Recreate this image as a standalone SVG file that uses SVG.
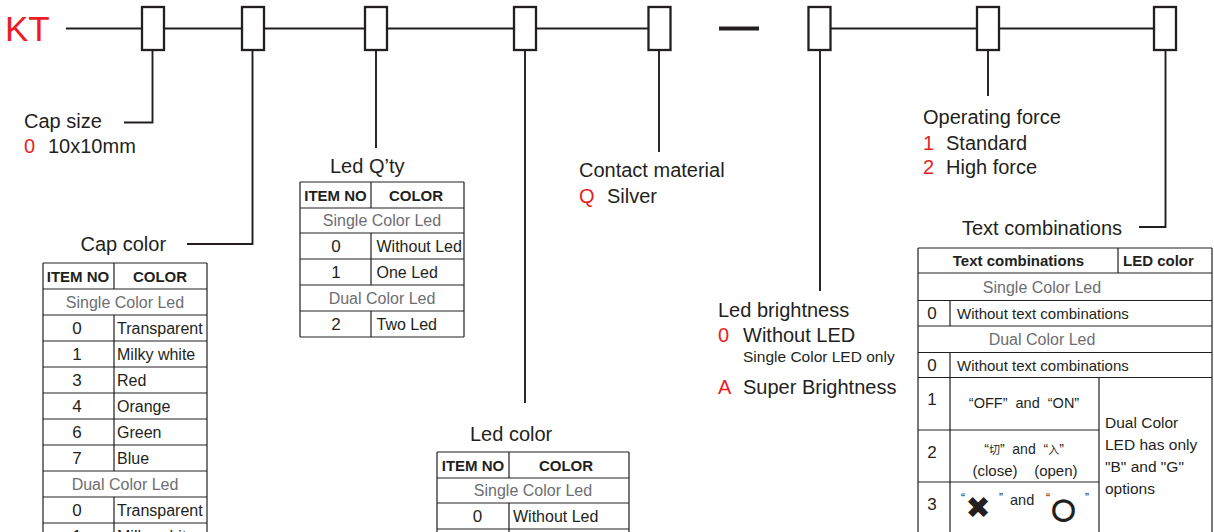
<svg xmlns="http://www.w3.org/2000/svg" width="1214" height="532" viewBox="0 0 1214 532">
<style>
text{font-family:"Liberation Sans",Arial,sans-serif;fill:#231f20}
.red{fill:#ed1c24}
.lbl{font-size:20px}
.th{font-size:15px;font-weight:bold}
.sub{font-size:16px;fill:#6d6e71;text-anchor:middle}
.num{font-size:17px;text-anchor:middle}
.cell{font-size:16px}
.mid{text-anchor:middle}
.box{fill:#fff;stroke:#231f20;stroke-width:2.3}
.conn{fill:none;stroke:#231f20;stroke-width:1.9}
.dash{fill:none;stroke:#231f20;stroke-width:3.8}
.tbl{fill:none;stroke:#231f20;stroke-width:1.2}
.sym{font-family:"DejaVu Sans",sans-serif;text-anchor:middle}
</style>
<rect width="1214" height="532" fill="#fff"/>
<g id="connectors">
<path class="conn" d="M66 28.5H648M831 28.5H1154"/>
<path class="dash" d="M719 28.5H759"/>
<path class="conn" d="M152.5 50V122.5H124M252.5 50V244H187M376 50V148M525 50V403M659 50V152M820 50V291M988 50V96M1165.5 50V227H1139"/>
</g>
<g id="title"><text x="5" y="40.5" class="red" font-size="35">KT</text></g>
<g id="box1"><rect class="box" x="142" y="7" width="22" height="43"/></g>
<g id="box2"><rect class="box" x="242" y="7" width="22" height="43"/></g>
<g id="box3"><rect class="box" x="365" y="7" width="22" height="43"/></g>
<g id="box4"><rect class="box" x="514" y="7" width="22" height="43"/></g>
<g id="box5"><rect class="box" x="648.5" y="7" width="22" height="43"/></g>
<g id="box6"><rect class="box" x="808.5" y="7" width="22" height="43"/></g>
<g id="box7"><rect class="box" x="977" y="7" width="22" height="43"/></g>
<g id="box8"><rect class="box" x="1154" y="7" width="22" height="43"/></g>

<g id="cap-size">
<text x="24" y="128" class="lbl">Cap size</text>
<text x="24" y="153" class="lbl red">0</text><text x="48" y="153" class="lbl">10x10mm</text>
</g>

<g id="cap-color">
<text x="80.5" y="251" class="lbl">Cap color</text>
<path class="tbl" d="M43 263H207M43 289H207M43 315H207M43 341H207M43 367H207M43 393H207M43 419H207M43 445H207M43 471H207M43 497H207M43 523H207M43 549H207M43 263V549M207 263V549M114 263V289M114 315V471M114 497V549"/>
<text x="78" y="281.5" class="th mid">ITEM NO</text>
<text x="160" y="281.5" class="th mid">COLOR</text>
<text x="125" y="307.5" class="sub">Single Color Led</text>
<text x="77" y="334" class="num">0</text><text x="117" y="334" class="cell">Transparent</text>
<text x="77" y="360" class="num">1</text><text x="117" y="360" class="cell">Milky white</text>
<text x="77" y="386" class="num">3</text><text x="117" y="386" class="cell">Red</text>
<text x="77" y="412" class="num">4</text><text x="117" y="412" class="cell">Orange</text>
<text x="77" y="438" class="num">6</text><text x="117" y="438" class="cell">Green</text>
<text x="77" y="464" class="num">7</text><text x="117" y="464" class="cell">Blue</text>
<text x="125" y="489.5" class="sub">Dual Color Led</text>
<text x="77" y="516" class="num">0</text><text x="117" y="516" class="cell">Transparent</text>
<text x="77" y="542" class="num">1</text><text x="117" y="542" class="cell">Milky white</text>
</g>

<g id="led-qty">
<text x="330" y="173" class="lbl">Led Q’ty</text>
<path class="tbl" d="M300 182H464M300 208H464M300 233H464M300 259H464M300 285H464M300 311H464M300 337H464M300 182V337M464 182V337M371 182V208M371 233V285M371 311V337"/>
<text x="335.5" y="200.5" class="th mid">ITEM NO</text>
<text x="416" y="200.5" class="th mid">COLOR</text>
<text x="382" y="226" class="sub">Single Color Led</text>
<text x="336" y="252" class="num">0</text><text x="376.5" y="252" class="cell">Without Led</text>
<text x="336" y="278" class="num">1</text><text x="376.5" y="278" class="cell">One Led</text>
<text x="382" y="303.5" class="sub">Dual Color Led</text>
<text x="336" y="330" class="num">2</text><text x="376.5" y="330" class="cell">Two Led</text>
</g>

<g id="led-color">
<text x="470" y="441" class="lbl">Led color</text>
<path class="tbl" d="M437 452H629M437 478H629M437 503H629M437 529H629M437 555H629M437 452V555M629 452V555M509 452V478M509 503V555"/>
<text x="473" y="470.5" class="th mid">ITEM NO</text>
<text x="566" y="470.5" class="th mid">COLOR</text>
<text x="533" y="496" class="sub">Single Color Led</text>
<text x="477.5" y="522" class="num">0</text><text x="513" y="522" class="cell">Without Led</text>
</g>

<g id="contact-material">
<text x="579" y="177" class="lbl">Contact material</text>
<text x="579" y="203" class="lbl red">Q</text><text x="607" y="203" class="lbl">Silver</text>
</g>

<g id="led-brightness">
<text x="718" y="317" class="lbl">Led brightness</text>
<text x="718" y="342" class="lbl red">0</text><text x="743" y="342" class="lbl">Without LED</text>
<text x="743" y="362" font-size="15.5">Single Color LED only</text>
<text x="718" y="393.5" class="lbl red">A</text><text x="743" y="393.5" class="lbl">Super Brightness</text>
</g>

<g id="operating-force">
<text x="923" y="124" class="lbl">Operating force</text>
<text x="923" y="149.5" class="lbl red">1</text><text x="946" y="149.5" class="lbl">Standard</text>
<text x="923" y="174" class="lbl red">2</text><text x="946" y="174" class="lbl">High force</text>
</g>

<g id="text-combinations">
<text x="962" y="235" class="lbl">Text combinations</text>
<path class="tbl" d="M918 248H1212M918 273H1212M918 300.5H1212M918 326H1212M918 352.5H1212M918 377.5H1212M918 430H1099M918 482H1099M918 248V540M1212 248V540M1118 248V273M950 300.5V326M950 352.5V540M1099 377.5V540"/>
<text x="1018.5" y="266" class="th mid" font-size="15.5">Text combinations</text>
<text x="1123" y="266" class="th" font-size="15.5">LED color</text>
<text x="1042" y="293" class="sub">Single Color Led</text>
<text x="932" y="319" class="num" font-size="16">0</text><text x="957" y="318.5" font-size="15">Without text combinations</text>
<text x="1042" y="345" class="sub">Dual Color Led</text>
<text x="932" y="371" class="num" font-size="16">0</text><text x="957" y="370.5" font-size="15">Without text combinations</text>
<text x="932" y="405" class="num">1</text>
<text x="1024" y="407.5" font-size="14.5" class="mid" xml:space="preserve">“OFF”  and  “ON”</text>
<text x="932" y="458" class="num">2</text>
<text x="1024" y="454" font-size="14" class="mid" xml:space="preserve">“<tspan font-family="'Noto Sans CJK SC',sans-serif" font-size="11">切</tspan>”  and  “<tspan font-family="'Noto Sans CJK SC',sans-serif" font-size="11">入</tspan>”</text>
<text x="1025" y="476" font-size="15" class="mid" xml:space="preserve">(close)    (open)</text>
<text x="932" y="510" class="num">3</text>
<text x="961" y="502" font-size="12">“</text>
<text x="978" y="518" font-size="30" class="sym">✖</text>
<text x="999" y="502" font-size="12">”</text>
<text x="1010" y="505" font-size="14.5">and</text>
<text x="1046" y="502" font-size="12">“</text>
<text x="1063.5" y="516" font-size="20.5" class="sym" stroke="#231f20" stroke-width="1.9">◯</text>
<text x="1085" y="502" font-size="12">”</text>
<text x="1105" y="428" font-size="15.5">Dual Color</text>
<text x="1105" y="450" font-size="15.5">LED has only</text>
<text x="1105" y="472" font-size="15.5">"B" and "G"</text>
<text x="1105" y="494" font-size="15.5">options</text>
</g>
</svg>
